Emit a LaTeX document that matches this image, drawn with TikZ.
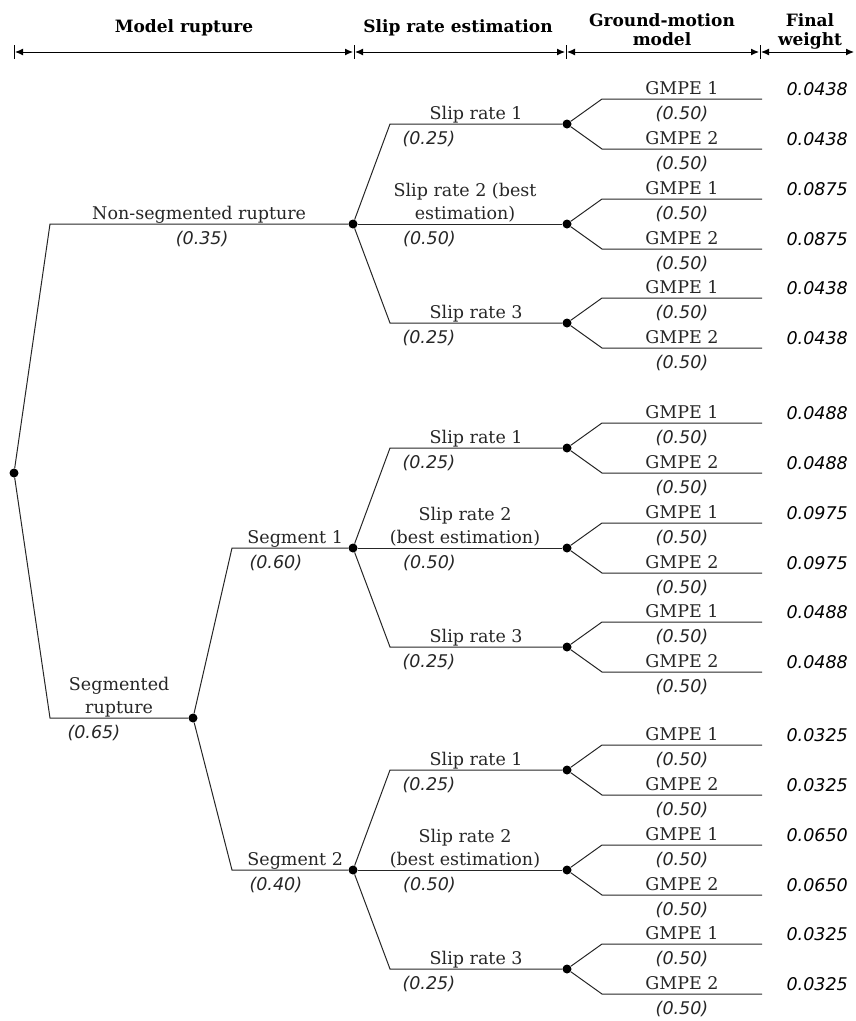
\documentclass[tikz,border=0pt]{standalone}
\usepackage{fontspec}
\setmainfont{DejaVu Serif}
\newfontfamily\numfont{DejaVu Sans}
\usetikzlibrary{arrows.meta}

\tikzset{
  branch/.style={line width=1pt, black!85},
  dot/.style={circle, fill=black, inner sep=0pt, minimum size=9pt},
  lbl/.style={font=\fontsize{17.5}{23}\selectfont, align=center, inner sep=0pt, text depth=0pt, above=4pt},
  prob/.style={font=\numfont\itshape\fontsize{17.5}{19}\selectfont, inner sep=0pt, text height=12pt, text depth=0pt, below=8pt},
  wt/.style={font=\numfont\itshape\fontsize{17.5}{19}\selectfont, inner sep=0pt, anchor=base east},
  head/.style={font=\bfseries\fontsize{17}{19}\selectfont, align=center, inner sep=0pt, anchor=base},
  span/.style={{Latex[length=8pt,width=7pt]}-{Latex[length=8pt,width=7pt]}, line width=1pt, shorten <=1pt, shorten >=1pt}
}

\begin{document}
\begin{tikzpicture}[x=1pt, y=-1pt]
\useasboundingbox (0,0) rectangle (855,1021);

% column headers
\foreach \n/\x in {t0/14, t1/354, t2/566, t3/760, t4/855}
  \coordinate (\n) at (\x,52);
\foreach \n in {t0,t1,t2,t3}
  \draw[line width=1pt] ([yshift=7pt]\n) -- ([yshift=-7pt]\n);
\draw[span] (t0) -- (t1);
\draw[span] (t1) -- (t2);
\draw[span] (t2) -- (t3);
\draw[span] (t3) -- (t4);

\node[head] (h-rup) at (184,32) {Model rupture};
\node[head] (h-slip) at (458,32) {Slip rate estimation};
\node[head] (h-gm) at (662,45) {Ground-motion\\model};
\node[head] (h-wt) at (810,45) {Final\\weight};

% rupture model
\node[dot] (root) at (14,473) {};
\coordinate (nsb) at (50,224);
\node[dot] (ns) at (353,224) {};
\coordinate (sgb) at (50,718);
\node[dot] (sg) at (193,718) {};

\draw[branch] (root) -- (nsb) -- node[lbl] (l-ns) {Non-segmented rupture}
  node[prob, xshift=3pt] (q-ns) {(0.35)} (ns);
\draw[branch] (root) -- (sgb) -- node[lbl] (l-sg) {Segmented\\rupture}
  node[prob, pos=0, anchor=north west, xshift=17pt] (q-sg) {(0.65)} (sg);

% segments
\coordinate (sab) at (232,548);
\node[dot] (sa) at (353,548) {};
\coordinate (sbb) at (232,870);
\node[dot] (sb) at (353,870) {};

\draw[branch] (sg) -- (sab) -- node[lbl, xshift=5pt] (l-sa) {Segment 1}
  node[prob, pos=0, anchor=north west, xshift=17pt] (q-sa) {(0.60)} (sa);
\draw[branch] (sg) -- (sbb) -- node[lbl, xshift=5pt] (l-sb) {Segment 2}
  node[prob, pos=0, anchor=north west, xshift=17pt] (q-sb) {(0.40)} (sb);

% slip rates and GMPEs
\foreach \p/\wa/\wb/\wc/\srtwo in {ns/0.0438/0.0875/0.0438/{Slip rate 2 (best\\estimation)},
    sa/0.0488/0.0975/0.0488/{Slip rate 2\\(best estimation)},
    sb/0.0325/0.0650/0.0325/{Slip rate 2\\(best estimation)}} {
  \coordinate (\p-b1) at ([shift={(37,-100)}]\p.center);
  \node[dot] (\p-r1) at ([shift={(214,-100)}]\p.center) {};
  \node[dot] (\p-r2) at ([shift={(214,0)}]\p.center) {};
  \coordinate (\p-b3) at ([shift={(37,99)}]\p.center);
  \node[dot] (\p-r3) at ([shift={(214,99)}]\p.center) {};

  \draw[branch] (\p) -- (\p-b1) -- node[lbl] (\p-l1) {Slip rate 1}
    node[prob, pos=0, anchor=north west, xshift=12pt] (\p-q1) {(0.25)} (\p-r1);
  \draw[branch] (\p) -- node[lbl, xshift=5pt] (\p-l2) {\srtwo}
    node[prob, pos=0, anchor=north west, xshift=45pt] (\p-q2) {(0.50)} (\p-r2);
  \draw[branch] (\p) -- (\p-b3) -- node[lbl] (\p-l3) {Slip rate 3}
    node[prob, pos=0, anchor=north west, xshift=12pt] (\p-q3) {(0.25)} (\p-r3);

  \foreach \r/\w in {\p-r1/\wa, \p-r2/\wb, \p-r3/\wc} {
    \coordinate (\r-g1b) at ([shift={(35,-25)}]\r.center);
    \coordinate (\r-g1e) at ([shift={(195,-25)}]\r.center);
    \coordinate (\r-g2b) at ([shift={(35,25)}]\r.center);
    \coordinate (\r-g2e) at ([shift={(195,25)}]\r.center);
    \draw[branch] (\r) -- (\r-g1b) -- node[lbl] (\r-n1) {GMPE 1}
      node[prob] (\r-q1) {(0.50)} (\r-g1e);
    \draw[branch] (\r) -- (\r-g2b) -- node[lbl] (\r-n2) {GMPE 2}
      node[prob] (\r-q2) {(0.50)} (\r-g2e);
    \node[wt] (\r-w1) at ([shift={(281,-29)}]\r.center) {\w};
    \node[wt] (\r-w2) at ([shift={(281,21)}]\r.center) {\w};
  }
}
\end{tikzpicture}
\end{document}
